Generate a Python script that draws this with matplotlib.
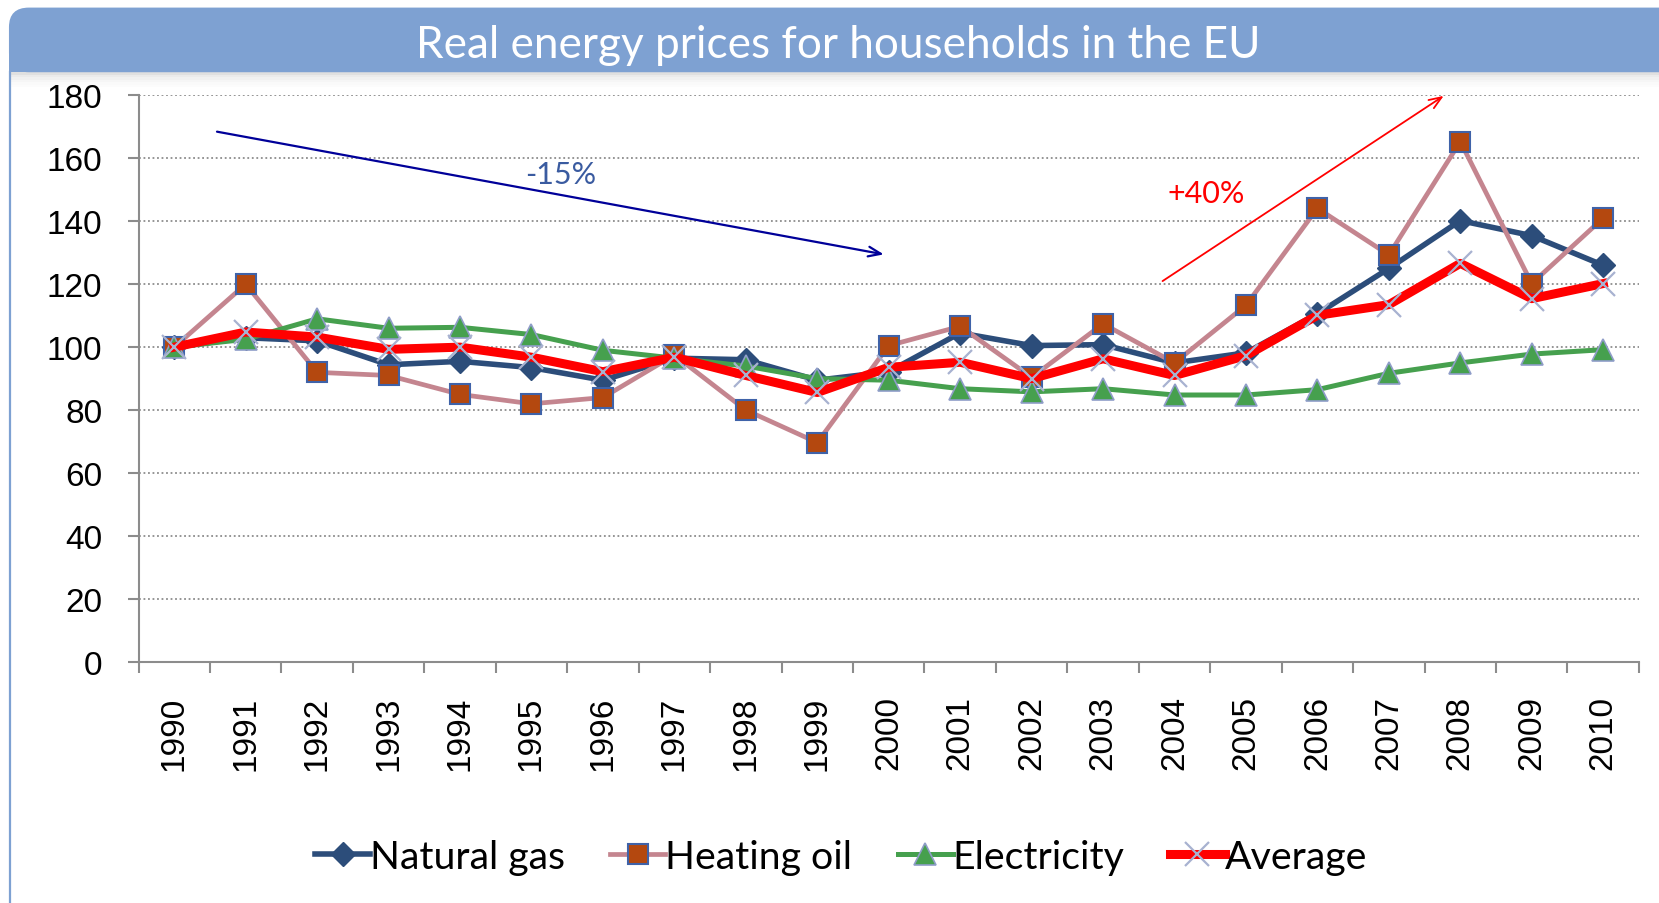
import matplotlib
matplotlib.use("Agg")
import matplotlib.pyplot as plt
from matplotlib.patches import FancyBboxPatch, Rectangle
from matplotlib.lines import Line2D
import numpy as np

years = [str(y) for y in range(1990, 2011)]
natural_gas = [100, 103, 102, 94.4, 95.5, 93.5, 89.5, 96.5, 96, 89.5, 92.2,
               104.5, 100.5, 100.8, 95, 98.2, 110.6, 125, 140.2, 135.4, 126]
heating_oil = [100, 120, 92, 91, 85, 82, 84, 97.5, 80, 69.7, 100.5,
               106.6, 90.4, 107.4, 95, 113.3, 144.1, 129.3, 165.3, 120.2, 141]
electricity = [100, 102.5, 109, 106, 106.3, 104, 99, 96.5, 94, 90, 89.5,
               86.8, 85.8, 86.8, 84.8, 84.8, 86.5, 91.7, 95, 97.8, 99.2]
average = [100, 104.8, 103.2, 99.3, 100, 96.8, 92.2, 96.8, 91, 85.6, 93.6,
           95.2, 90, 96.3, 91, 97.3, 110.1, 113.5, 126.6, 115.4, 120.2]
title = "Real energy prices for households in the EU"
yticks = [0, 20, 40, 60, 80, 100, 120, 140, 160, 180]

UI = ["Lato", "DejaVu Sans"]
AX = ["Liberation Sans", "DejaVu Sans"]

fig = plt.figure(figsize=(16.59, 9.04), dpi=100)
fig.patch.set_facecolor("white")

# title band with shadow
band_bottom = 0.919
for i, a in enumerate([0.12, 0.08, 0.055, 0.035, 0.02, 0.01]):
    fig.add_artist(Rectangle((0.0060, band_bottom - 0.0028 * (i + 1)), 1.0, 0.0028,
                             transform=fig.transFigure, facecolor="black",
                             alpha=a, edgecolor="none", zorder=0))
band = FancyBboxPatch((0.0054, band_bottom), 1.05, 0.0715,
                      boxstyle="round,pad=0,rounding_size=0.012",
                      transform=fig.transFigure, facecolor="#7EA1D2",
                      edgecolor="none", mutation_aspect=1.8, zorder=1)
fig.add_artist(band)
fig.add_artist(Rectangle((0.0054, band_bottom), 1.0, 0.03,
                         transform=fig.transFigure, facecolor="#7EA1D2",
                         edgecolor="none", zorder=1))
fig.add_artist(Line2D([0.0060, 0.0060], [0.0, band_bottom], transform=fig.transFigure,
                      color="#7EA1D2", lw=1.6))
fig.text(0.505, 0.950, title, color="white", fontsize=31.8, family=UI,
         ha="center", va="center", zorder=3)

ax = fig.add_axes([0.0835, 0.2666, 0.9044, 0.6269])
x = np.arange(len(years))

ax.plot(x, natural_gas, color="#2C4D7A", lw=4.0, marker="D", ms=12.5,
        mfc="#2C4D7A", mec="#2C4D7A", label="Natural gas", zorder=3)
ax.plot(x, heating_oil, color="#C4858F", lw=3.4, marker="s", ms=14.5,
        mfc="#B4480F", mec="#3F62A8", mew=1.5, label="Heating oil", zorder=4)
ax.plot(x, electricity, color="#46A04E", lw=3.6, marker="^", ms=15.5,
        mfc="#46A04E", mec="#8F9DC8", mew=1.2, label="Electricity", zorder=5)
ax.plot(x, average, color="#FF0000", lw=6.5, marker="x", ms=17,
        mec="#A8B2D0", mew=1.6, label="Average", zorder=6)

ax.set_xlim(-0.5, len(years) - 0.5)
ax.set_ylim(0, 180)
ax.set_yticks(yticks)
ax.set_xticks(x)
ax.set_xticklabels(years, rotation=90, family=AX, fontsize=24)
ax.set_xticks(np.arange(-0.5, len(years)), minor=True)
ax.tick_params(axis="x", which="major", length=0, pad=24)
ax.tick_params(axis="x", which="minor", length=8, width=1.5, color="#8C8C8C")
ax.tick_params(axis="y", length=8, width=1.5, color="#8C8C8C", pad=18,
               labelsize=24)
for lab in ax.get_yticklabels():
    lab.set_family(AX)
for s in ["top", "right"]:
    ax.spines[s].set_visible(False)
for s in ["left", "bottom"]:
    ax.spines[s].set_color("#8C8C8C")
    ax.spines[s].set_linewidth(1.5)
ax.yaxis.grid(True, linestyle=(0, (1, 1.5)), color="#8C8C8C", lw=1.3)
ax.set_axisbelow(True)

# annotations
ax.annotate("", xy=(9.97, 129.3), xytext=(0.56, 168.6),
            arrowprops=dict(arrowstyle="->,head_length=0.9,head_width=0.35",
                            color="#000099", lw=1.6))
ax.text(5.41, 155.1, "-15%", color="#3A5BA0", fontsize=22, family=UI,
        ha="center", va="center")
ax.annotate("", xy=(17.8, 180.3), xytext=(13.8, 120.5), annotation_clip=False,
            arrowprops=dict(arrowstyle="->,head_length=0.9,head_width=0.35",
                            color="#FF0000", lw=1.3))
ax.text(14.44, 149.1, "+40%", color="#FF0000", fontsize=22, family=UI,
        ha="center", va="center")

leg = fig.legend(loc="center", bbox_to_anchor=(0.507, 0.051), ncol=4,
                 frameon=False, handlelength=1.4, handletextpad=0.0,
                 columnspacing=1.15, prop=dict(family=UI, size=28.3))

fig.savefig("out.png", dpi=100, facecolor="white")
